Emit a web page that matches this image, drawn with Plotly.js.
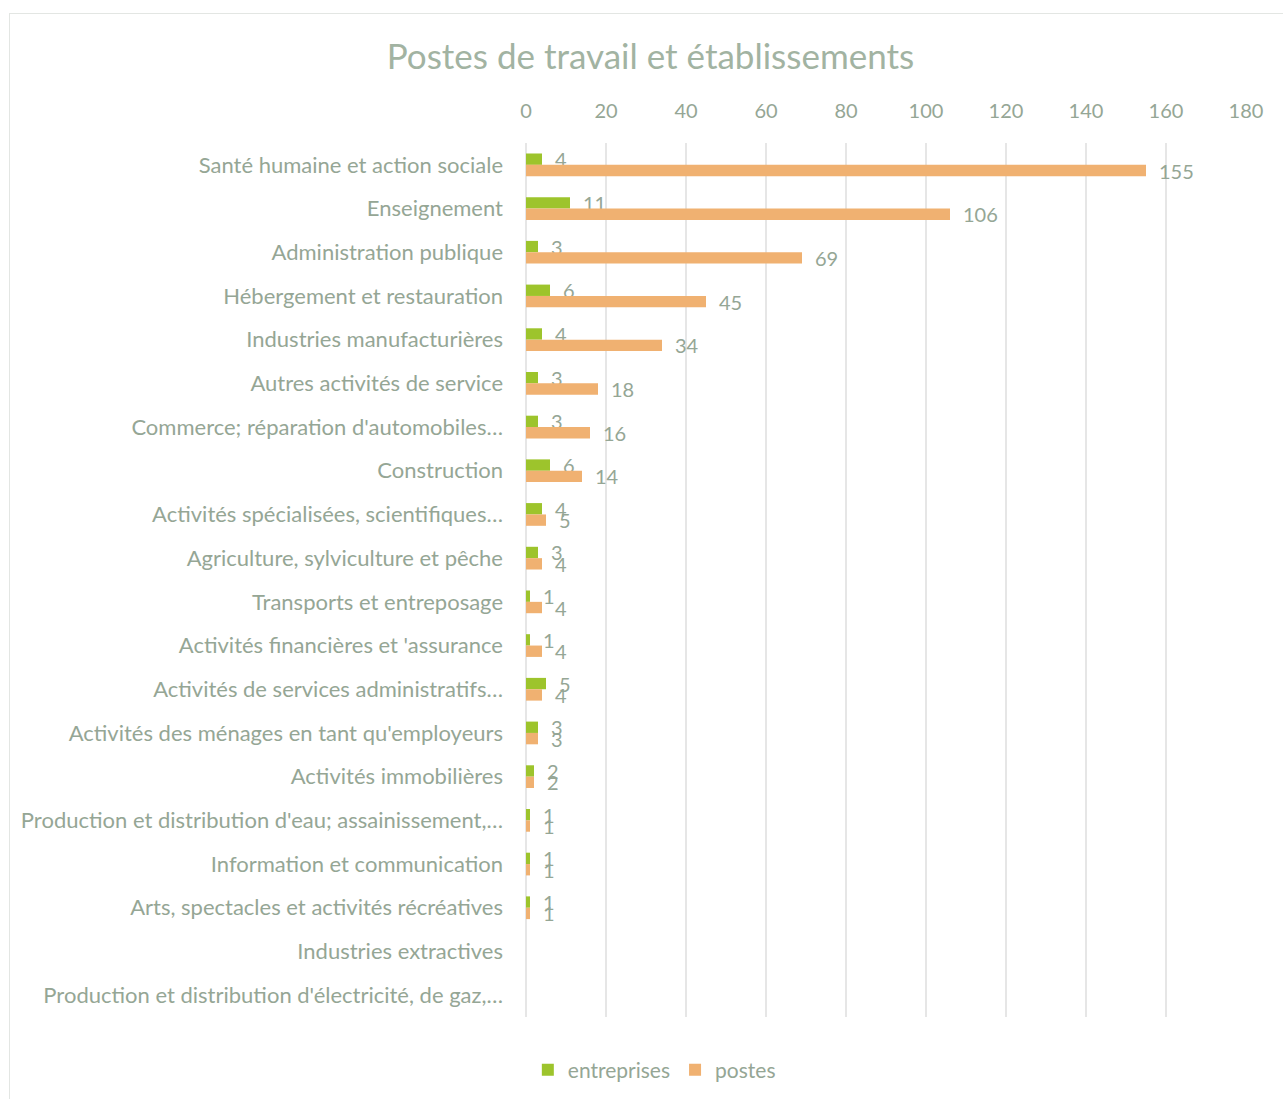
<!DOCTYPE html>
<html>
<head>
<meta charset="utf-8">
<script src="https://cdn.plot.ly/plotly-3.0.1.min.js"></script>
<style>
html,body{margin:0;padding:0;background:#fff;overflow:hidden;}
#chart{width:1283px;height:1099px;}
#frame{position:absolute;left:9px;top:13px;width:1290px;height:1100px;border:1.5px solid #e3e6e3;pointer-events:none;}
</style>
</head>
<body>
<div id="chart"></div>
<div id="frame"></div>
<script>
const categories = [
  "Santé humaine et action sociale",
  "Enseignement",
  "Administration publique",
  "Hébergement et restauration",
  "Industries manufacturières",
  "Autres activités de service",
  "Commerce; réparation d'automobiles…",
  "Construction",
  "Activités spécialisées, scientifiques…",
  "Agriculture, sylviculture et pêche",
  "Transports et entreposage",
  "Activités financières et 'assurance",
  "Activités de services administratifs…",
  "Activités des ménages en tant qu'employeurs",
  "Activités immobilières",
  "Production et distribution d'eau; assainissement,…",
  "Information et communication",
  "Arts, spectacles et activités récréatives",
  "Industries extractives",
  "Production et distribution d'électricité, de gaz,…"
];
const entreprises = [4, 11, 3, 6, 4, 3, 3, 6, 4, 3, 1, 1, 5, 3, 2, 1, 1, 1, null, null];
const postes = [155, 106, 69, 45, 34, 18, 16, 14, 5, 4, 4, 4, 4, 3, 2, 1, 1, 1, null, null];
const xTicks = [0, 20, 40, 60, 80, 100, 120, 140, 160, 180];

const txtColor = '#95a695';
const fontFam = 'Lato, "Open Sans", "DejaVu Sans", sans-serif';
const pad = '\u2002';

const traces = [
  {
    type: 'bar', orientation: 'h', name: 'entreprises',
    y: categories, x: entreprises,
    text: entreprises.map(v => v == null ? '' : pad + String(v)),
    textposition: 'outside', constraintext: 'none', cliponaxis: false,
    textfont: {family: fontFam, size: 20, color: txtColor},
    marker: {color: '#9dc42c'}
  },
  {
    type: 'bar', orientation: 'h', name: 'postes',
    y: categories, x: postes,
    text: postes.map(v => v == null ? '' : pad + String(v)),
    textposition: 'outside', constraintext: 'none', cliponaxis: false,
    textfont: {family: fontFam, size: 20, color: txtColor},
    marker: {color: '#f0b171'}
  }
];

const layout = {
  width: 1283, height: 1099,
  paper_bgcolor: '#ffffff', plot_bgcolor: '#ffffff',
  font: {family: fontFam, color: txtColor, size: 20},
  margin: {l: 526, r: 37, t: 143, b: 82},
  barmode: 'group', bargap: 0.48, bargroupgap: 0,
  title: {
    text: 'Postes de travail et établissements',
    font: {family: fontFam, size: 35, color: '#a2b3a2'},
    xref: 'container', x: 0.507, xanchor: 'center',
    yref: 'container', y: 1 - 57/1099, yanchor: 'middle'
  },
  xaxis: {
    side: 'top', range: [0, 180], tickvals: xTicks, ticktext: xTicks.map(String),
    showgrid: true, gridcolor: '#e6e6e6', gridwidth: 2,
    zeroline: true, zerolinecolor: '#e6e6e6', zerolinewidth: 2,
    showline: false, ticks: '', ticklabelstandoff: 20,
    tickfont: {size: 20, color: txtColor, family: fontFam},
    fixedrange: true
  },
  yaxis: {
    type: 'category', autorange: 'reversed',
    showgrid: false, zeroline: false, showline: false,
    ticks: '', ticklabelstandoff: 22,
    tickfont: {size: 22, color: txtColor, family: fontFam},
    fixedrange: true
  },
  showlegend: true,
  legend: {
    orientation: 'h', xref: 'container', yref: 'container',
    x: 0.51, xanchor: 'center', y: 1 - 1070/1099, yanchor: 'middle',
    font: {size: 21, color: txtColor, family: fontFam},
    traceorder: 'normal', itemwidth: 30
  }
};

Plotly.newPlot('chart', traces, layout, {displayModeBar: false, staticPlot: true});
</script>
</body>
</html>
